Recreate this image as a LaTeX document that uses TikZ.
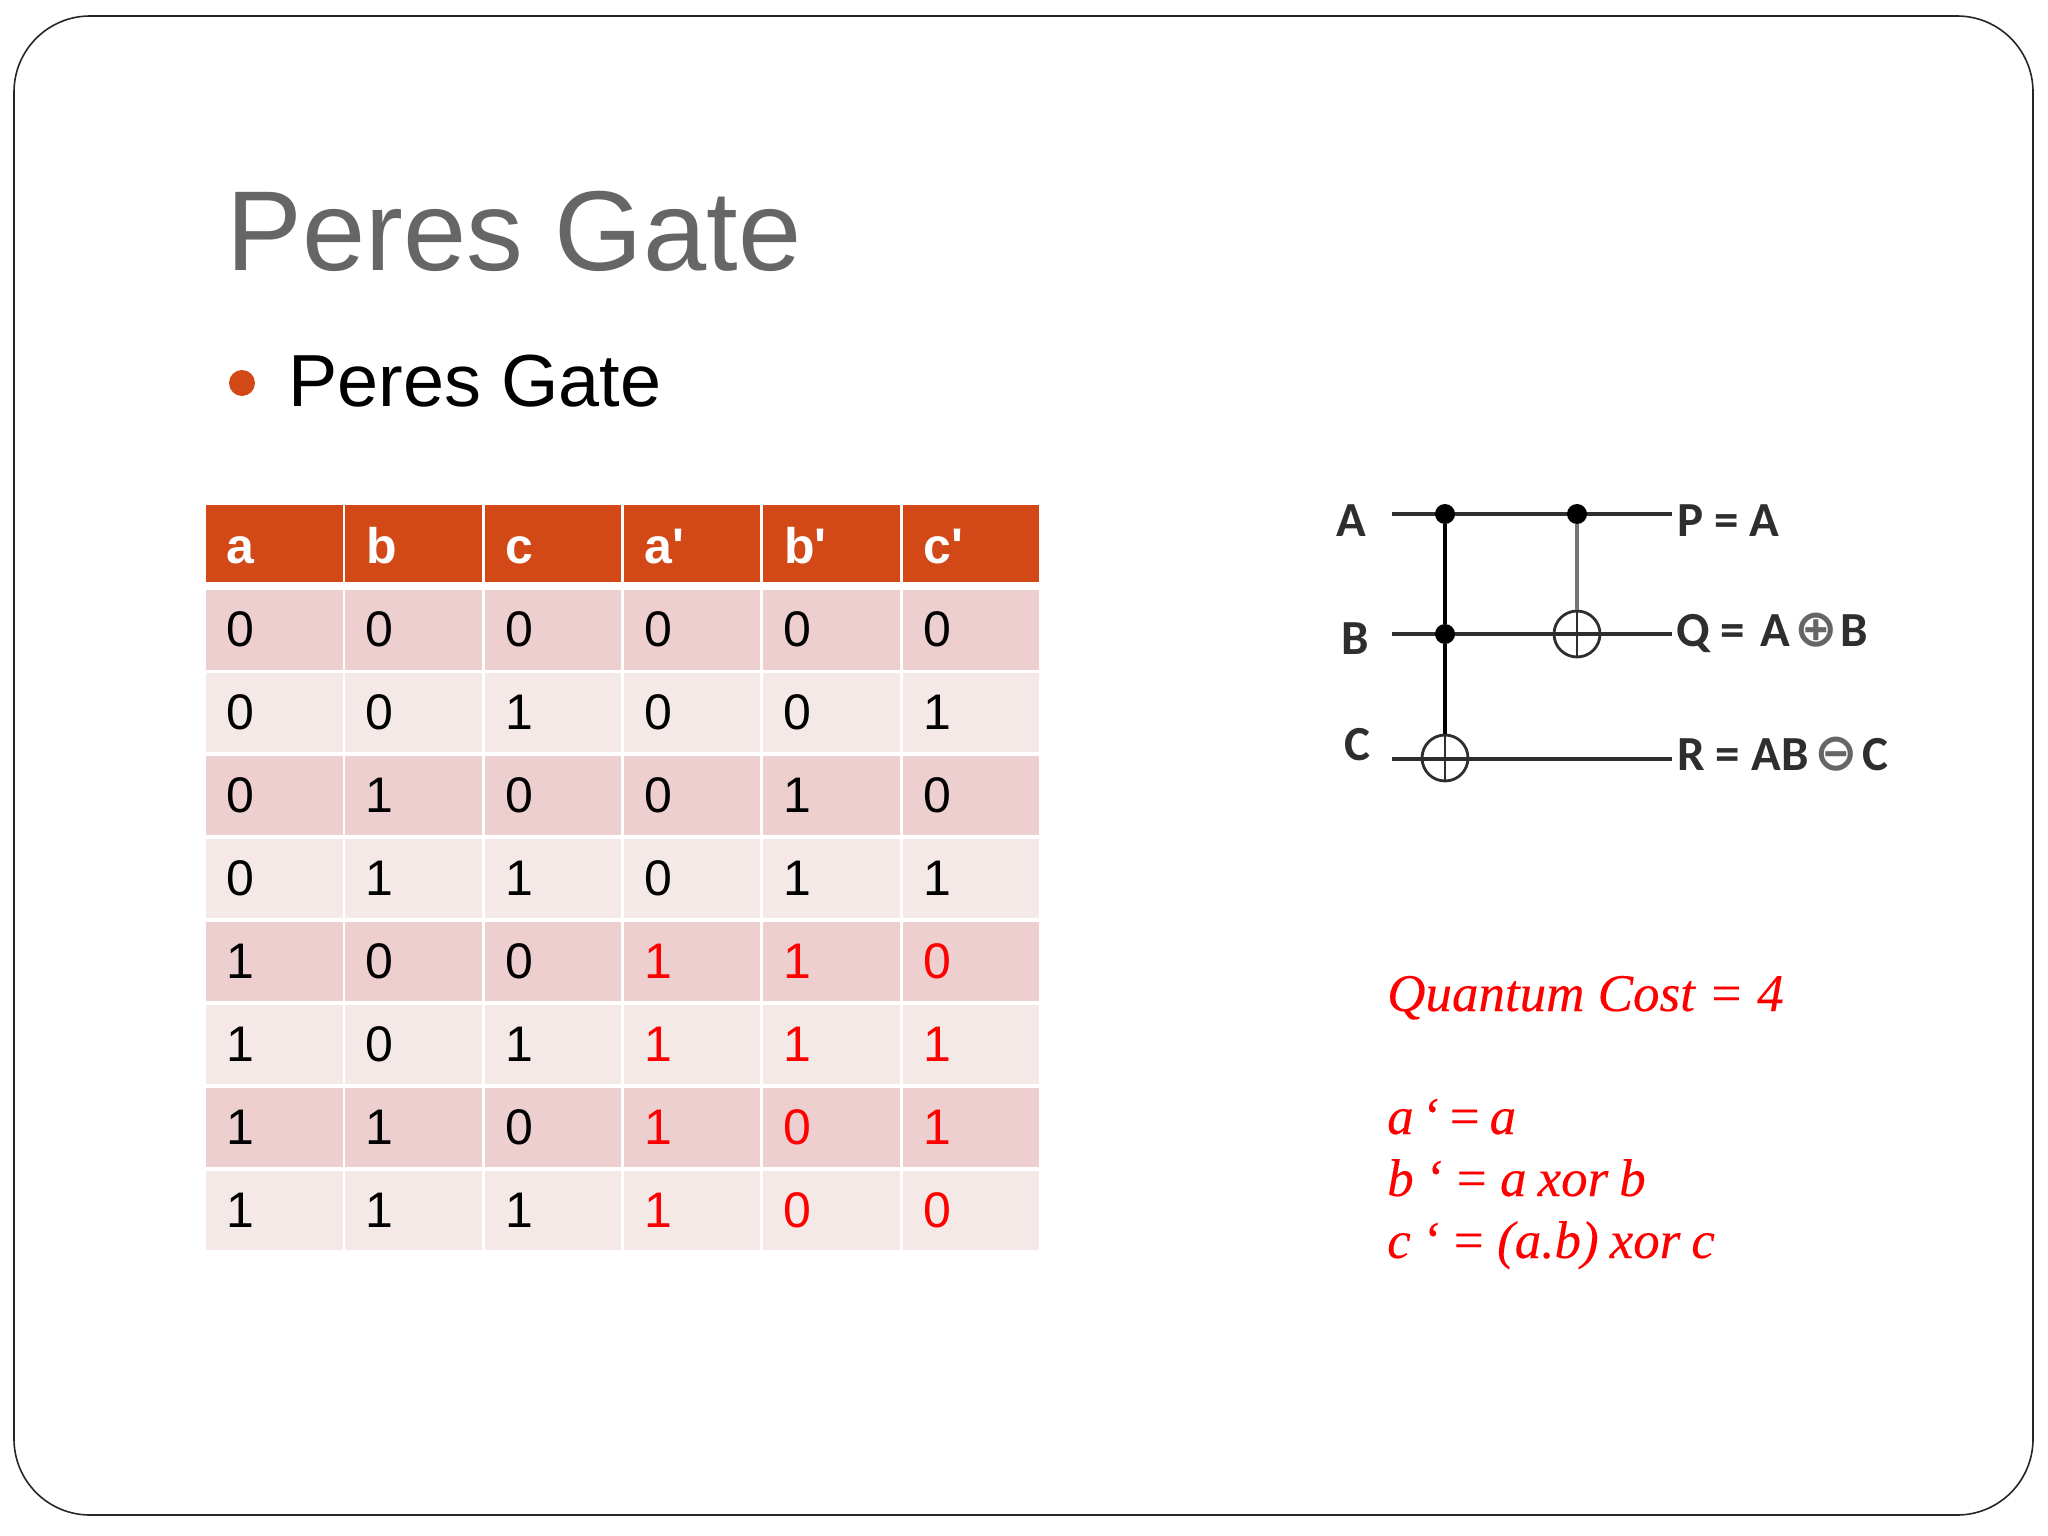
\documentclass[tikz,border=0pt]{standalone}
\usepackage{fontspec}
\setmainfont{Liberation Sans}
\newfontfamily\headfont{Liberation Sans}
\newfontfamily\serifit[ItalicFeatures={FakeBold=0.2}]{Liberation Serif}
\newfontfamily\circfont{Carlito}
\newfontfamily\symfont{DejaVu Sans}
\definecolor{accent}{HTML}{D34817}
\definecolor{rowdark}{HTML}{EDCFCF}
\definecolor{rowlight}{HTML}{F5E9E8}
\definecolor{titlegray}{HTML}{666666}
\definecolor{circink}{HTML}{2E2E2E}
\newcommand{\circsym}[1]{{\symfont\fontsize{52}{52}\selectfont\color{black!60}#1}}
\tikzset{
  px/.style={x=1pt,y=-1pt},
  slide/.style={draw=black!85,line width=1.6pt,rounded corners=76pt},
  headtxt/.style={anchor=base west,inner sep=0pt,text=white,font=\fontsize{50}{50}\selectfont\headfont\bfseries},
  celltxt/.style={anchor=base west,inner sep=0pt,font=\fontsize{50}{50}\selectfont},
  redtxt/.style={anchor=base west,inner sep=0pt,text=red,font=\fontsize{53}{53}\selectfont\serifit\itshape},
  wirelab/.style={anchor=base west,inner sep=0pt,text=circink,font=\fontsize{49}{49}\selectfont\circfont\bfseries},
  wire/.style={draw=circink,line width=3.2pt},
  ctrl/.style={circle,fill=black,inner sep=0pt,minimum size=20pt},
  target/.style={circle,draw=circink,line width=2.8pt,inner sep=0pt,minimum size=46pt,
    path picture={\draw[circink,line width=2.8pt] (path picture bounding box.north)--(path picture bounding box.south)
      (path picture bounding box.west)--(path picture bounding box.east);}},
}
\begin{document}
\begin{tikzpicture}[px]
\useasboundingbox (0,0) rectangle (2048,1536);
\fill[white] (0,0) rectangle (2048,1536);
\draw[slide] (14,16) rectangle (2033,1515);
% title
\node[anchor=base west,inner sep=0pt,text=titlegray,font=\fontsize{113.6}{113.6}\selectfont] (title) at (226.5,270) {Peres Gate};
\node[circle,fill=accent,inner sep=0pt,minimum size=26pt] (bullet) at (242,383) {};
\node[anchor=base west,inner sep=0pt,font=\fontsize{73.8}{73.8}\selectfont] (sub) at (288,406) {Peres Gate};
% table header
\foreach \i/\t in {0/a,1/b,2/c,3/a',4/b',5/c'}{
  \pgfmathsetmacro{\xl}{206+139.33*\i}
  \fill[accent] (\xl,505) rectangle (\xl+136.5,582);
  \node[headtxt] (h\i) at (\xl+20.5,563) {\t};
}
% table body
\foreach \r/\va/\vb/\vc/\vd/\ve/\vf/\ka/\kb/\kc in {
 0/0/0/0/0/0/0/black/black/black,
 1/0/0/1/0/0/1/black/black/black,
 2/0/1/0/0/1/0/black/black/black,
 3/0/1/1/0/1/1/black/black/black,
 4/1/0/0/1/1/0/red/red/red,
 5/1/0/1/1/1/1/red/red/red,
 6/1/1/0/1/0/1/red/red/red,
 7/1/1/1/1/0/0/red/red/red}{
  \pgfmathsetmacro{\yt}{590+82.95*\r}
  \pgfmathtruncatemacro{\odd}{mod(\r,2)}
  \ifnum\odd=0 \def\rowc{rowdark}\else \def\rowc{rowlight}\fi
  \foreach \i/\t/\k in {0/\va/black,1/\vb/black,2/\vc/black,3/\vd/\ka,4/\ve/\kb,5/\vf/\kc}{
    \pgfmathsetmacro{\xl}{206+139.33*\i}
    \fill[\rowc] (\xl,\yt) rectangle (\xl+136.5,\yt+79.5);
    \node[celltxt,text=\k] (c\r\i) at (\xl+20.2,\yt+56.5) {\t};
  }
}
% circuit
\coordinate (inA) at (1392,514);
\coordinate (inB) at (1392,634);
\coordinate (inC) at (1392,759);
\coordinate (outA) at (1672,514);
\coordinate (outB) at (1672,634);
\coordinate (outC) at (1672,759);
\draw[wire] (inA) -- (outA);
\draw[wire] (inB) -- (outB);
\draw[wire] (inC) -- (outC);
\node[ctrl] (d1) at (1445,514) {};
\node[ctrl] (d2) at (1445,634) {};
\node[target] (t1) at (1445,758) {};
\node[ctrl] (d3) at (1577,514) {};
\node[target] (t2) at (1577,634) {};
\draw[wire,draw=black] (d1) -- (d2);
\draw[wire,draw=black] (d2) -- (t1.north);
\draw[wire,draw=black!55] (d3) -- (t2.north);
\node[wirelab] (lA) at (1336,536) {A};
\node[wirelab] (lB) at (1341,654) {B};
\node[wirelab] (lC) at (1344,760) {C};
\node[wirelab] (lP) at (1677,536) {P = A};
\node[wirelab] (lQ) at (1676,646) {Q =\hspace{4pt} A\hspace{4pt}\circsym{⊕}\hspace{3pt}B};
\node[wirelab] (lR) at (1677,770) {R = AB\hspace{6pt}\circsym{⊖}\hspace{4pt}C};
% red notes
\node[redtxt] (qc) at (1387,1011) {Quantum Cost = 4};
\node[redtxt] (n1) at (1387,1134) {\spaceskip=7.5pt a ‘ = a};
\node[redtxt] (n2) at (1387,1196) {\spaceskip=11pt b ‘ = a xor b};
\node[redtxt] (n3) at (1387,1258) {\spaceskip=11pt c ‘ = (a.b) xor c};
\end{tikzpicture}
\end{document}
